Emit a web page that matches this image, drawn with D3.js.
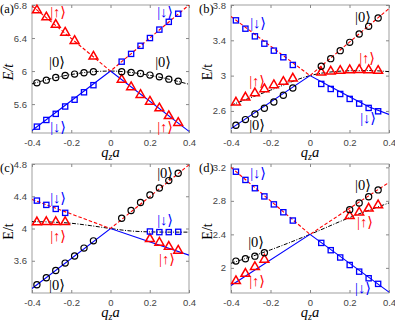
<!DOCTYPE html>
<html>
<head>
<meta charset="utf-8">
<script src="https://cdn.jsdelivr.net/npm/d3@7"></script>
<style>
body { margin: 0; background: #fff; }
text { font-family: "Liberation Serif", "DejaVu Serif", serif; }
.tick text { font-family: "Liberation Sans", Arial, sans-serif; font-size: 9.5px; fill: #444; }
</style>
</head>
<body>
<svg id="fig" width="395" height="323"></svg>
<script>
// momentum points where markers sit
var qLeft = [-0.375, -0.327, -0.279, -0.231, -0.183, -0.135, -0.087];
var qRight = [0.057, 0.105, 0.153, 0.201, 0.249, 0.297, 0.345];
var qLeft4 = qLeft.slice(0, 4);
var qRight4 = qRight.slice(3);
var xTicks = [-0.4, -0.2, 0, 0.2, 0.4];

// panel (a)
var aUpL = [6.73, 6.645, 6.555, 6.46, 6.36, null, 6.17];
var aDownL = [5.327, 5.408, 5.482, 5.571, 5.653, 5.743, 5.829];
var aZeroL = [5.857, 5.89, 5.922, 5.947, 5.963, 5.98, 5.992];
var aDownR = [6.114, 6.208, 6.306, 6.4, 6.502, 6.596, 6.694];
var aUpR = [5.89, 5.8, 5.706, 5.624, 5.543, 5.449, 5.367];
var aZeroR = [5.992, 5.984, 5.971, 5.951, 5.931, 5.902, 5.878];
var aRedLine = [[-0.4, 6.79], [0, 6.0], [0.4, 6.8]];
var aBlueLine = [[-0.4, 5.28], [0, 6.0], [0.4, 5.27]];
var aBlackLine = [[-0.4, 5.845], [-0.3, 5.91], [-0.2, 5.958], [-0.1, 5.99], [0, 6.0], [0.1, 5.985], [0.2, 5.948], [0.3, 5.9], [0.4, 5.84]];
var aTicks = [5.6, 6, 6.4, 6.8];

// panel (b)
var bDownL = [3.626, 3.532, 3.445, 3.362, 3.283, 3.208, 3.121];
var bUpL = [2.691, 2.747, 2.796, 2.842, 2.887, 2.925, 2.962];
var bZeroL = [2.438, 2.502, 2.566, 2.63, 2.702, 2.777, 2.86];
var bZeroR = [3.106, 3.192, 3.283, 3.377, 3.472, 3.558, 3.653];
var bUpR = [3.03, 3.042, 3.049, 3.057, 3.06, 3.057, 3.049];
var bDownR = [2.906, 2.849, 2.792, 2.736, 2.683, 2.634, 2.596];
var bRedLine = [[-0.4, 3.67], [0, 3.0], [0.4, 3.76]];
var bBlueLine = [[-0.4, 2.4], [0, 3.0], [0.1, 2.88], [0.2, 2.76], [0.3, 2.645], [0.4, 2.56]];
var bBlackLine = [[-0.4, 2.665], [-0.2, 2.835], [0, 3.0], [0.05, 3.025], [0.1, 3.04], [0.2, 3.055], [0.3, 3.057], [0.4, 3.045]];
var bTicks = [2.6, 3, 3.4, 3.8];

// panel (c)
var cDownL = [4.346, 4.293, 4.243, 4.194];
var cUpL = [4.072, 4.075, 4.076, 4.075];
var cZeroL = [3.303, 3.39, 3.48, 3.571, 3.658, 3.757, 3.847];
var cZeroR = [4.128, 4.223, 4.322, 4.416, 4.503, 4.594, 4.685];
var cDownR = [3.963, 3.955, 3.955, 3.959];
var cUpR = [3.864, 3.819, 3.769, 3.72];
var cRedLine = [[-0.4, 4.36], [0, 4.0], [0.4, 4.79]];
var cBlueLine = [[-0.4, 3.255], [0, 4.0], [0.4, 3.67]];
var cBlackLine = [[-0.4, 4.085], [-0.3, 4.08], [-0.2, 4.065], [-0.1, 4.035], [0, 4.0], [0.1, 3.97], [0.2, 3.958], [0.3, 3.955], [0.4, 3.955]];
var cTicks = [3.6, 4, 4.4, 4.8];

// panel (d)
var dDownL = [3.148, 3.05, 2.951, 2.853, 2.758, 2.664, 2.565];
var dZeroL = [2.081, 2.109, 2.14, 2.18];
var dUpL = [1.837, 1.924, 2.006, 2.093];
var dDownR = [2.298, 2.211, 2.124, 2.034, 1.955, 1.876, 1.809];
var dZeroR = [2.695, 2.774, 2.849, 2.931];
var dUpR = [2.613, 2.656, 2.703, 2.743];
var dRedLine = [[-0.4, 3.2], [0, 2.4], [0.4, 3.02]];
var dBlueLine = [[-0.4, 1.79], [0, 2.4], [0.4, 1.71]];
var dBlackLine = [[-0.4, 2.055], [-0.2, 2.215], [0, 2.4], [0.2, 2.6], [0.4, 2.775]];
var dTicks = [2, 2.4, 2.8, 3.2];

var UP = "|\u2191\u27E9", DOWN = "|\u2193\u27E9", ZERO = "|0\u27E9";
var RED = "#ff0000", BLUE = "#0000ff", BLACK = "#000";

var svg = d3.select("#fig");

function pts(qs, es) {
    return qs.map((q, i) => [q, es[i]]).filter(d => d[1] != null);
}

var panels = [
    { id: "a", x0: 32, x1: 189, y0: 5, y1: 133, yDomain: [5.25, 6.8], yTicks: aTicks, italicE: true,
      red: aRedLine, blue: aBlueLine, black: aBlackLine,
      ups: pts(qLeft, aUpL).concat(pts(qRight, aUpR)),
      downs: pts(qLeft, aDownL).concat(pts(qRight, aDownR)),
      zeros: pts(qLeft, aZeroL).concat(pts(qRight, aZeroR)),
      labels: [[UP, RED, -0.267, 6.715], [DOWN, BLUE, 0.278, 6.715], [ZERO, BLACK, -0.273, 6.11],
               [ZERO, BLACK, 0.268, 6.11], [DOWN, BLUE, -0.267, 5.323], [UP, RED, 0.278, 5.323]] },
    { id: "b", x0: 231, x1: 389, y0: 5, y1: 133, yDomain: [2.35, 3.8], yTicks: bTicks, italicE: false,
      red: bRedLine, blue: bBlueLine, black: bBlackLine,
      ups: pts(qLeft, bUpL).concat(pts(qRight, bUpR)),
      downs: pts(qLeft, bDownL).concat(pts(qRight, bDownR)),
      zeros: pts(qLeft, bZeroL).concat(pts(qRight, bZeroR)),
      labels: [[DOWN, BLUE, -0.263, 3.596], [ZERO, BLACK, 0.268, 3.664], [UP, RED, 0.289, 3.2],
               [UP, RED, -0.268, 2.939], [ZERO, BLACK, -0.268, 2.44], [DOWN, BLUE, 0.294, 2.52]] },
    { id: "c", x0: 32, x1: 189, y0: 164, y1: 293, yDomain: [3.2, 4.8], yTicks: cTicks, italicE: false,
      red: cRedLine, blue: cBlueLine, black: cBlackLine,
      ups: pts(qLeft4, cUpL).concat(pts(qRight4, cUpR)),
      downs: pts(qLeft4, cDownL).concat(pts(qRight4, cDownR)),
      zeros: pts(qLeft, cZeroL).concat(pts(qRight, cZeroR)),
      labels: [[ZERO, BLACK, 0.278, 4.688], [DOWN, BLUE, -0.267, 4.378], [UP, RED, -0.267, 3.907],
               [DOWN, BLUE, 0.278, 4.105], [UP, RED, 0.288, 3.621], [ZERO, BLACK, -0.273, 3.299]] },
    { id: "d", x0: 231, x1: 389, y0: 164, y1: 293, yDomain: [1.7, 3.24], yTicks: dTicks, italicE: false,
      red: dRedLine, blue: dBlueLine, black: dBlackLine,
      ups: pts(qLeft4, dUpL).concat(pts(qRight4, dUpR)),
      downs: pts(qLeft, dDownL).concat(pts(qRight, dDownR)),
      zeros: pts(qLeft4, dZeroL).concat(pts(qRight4, dZeroR)),
      labels: [[DOWN, BLUE, -0.263, 3.133], [ZERO, BLACK, 0.268, 2.99], [UP, RED, 0.278, 2.548],
               [ZERO, BLACK, -0.273, 2.309], [UP, RED, -0.268, 1.844], [DOWN, BLUE, 0.268, 1.76]] }
];

function fmt(d) { return String(+d.toFixed(2)); }

function drawPanel(p) {
    var xScale = d3.scaleLinear().domain([-0.4, 0.4]).range([p.x0, p.x1]);
    var yScale = d3.scaleLinear().domain(p.yDomain).range([p.y1, p.y0]);

    svg.append("clipPath").attr("id", "clip-" + p.id)
        .append("rect")
        .attr("x", p.x0).attr("y", p.y0)
        .attr("width", p.x1 - p.x0).attr("height", p.y1 - p.y0);

    var g = svg.append("g");

    // axes with inward ticks on all four sides
    g.append("g")
        .attr("transform", `translate(0,${p.y1})`)
        .call(d3.axisBottom(xScale).tickValues(xTicks).tickFormat(fmt).tickSizeInner(-3).tickSizeOuter(0).tickPadding(6));
    g.append("g")
        .attr("transform", `translate(0,${p.y0})`)
        .call(d3.axisTop(xScale).tickValues(xTicks).tickFormat("").tickSizeInner(-3).tickSizeOuter(0));
    g.append("g")
        .attr("transform", `translate(${p.x0},0)`)
        .call(d3.axisLeft(yScale).tickValues(p.yTicks).tickFormat(fmt).tickSizeInner(-3).tickSizeOuter(0).tickPadding(5));
    g.append("g")
        .attr("transform", `translate(${p.x1},0)`)
        .call(d3.axisRight(yScale).tickValues(p.yTicks).tickFormat("").tickSizeInner(-3).tickSizeOuter(0));
    g.selectAll(".domain").remove();
    g.selectAll(".tick line").attr("stroke", "#888");

    g.append("rect")
        .attr("x", p.x0).attr("y", p.y0)
        .attr("width", p.x1 - p.x0).attr("height", p.y1 - p.y0)
        .attr("fill", "none").attr("stroke", "#888").attr("stroke-width", 0.8);

    var line = d3.line().x(d => xScale(d[0])).y(d => yScale(d[1]));
    var curve = d3.line().x(d => xScale(d[0])).y(d => yScale(d[1])).curve(d3.curveMonotoneX);

    var lines = g.append("g").attr("clip-path", `url(#clip-${p.id})`);
    lines.append("path").attr("d", curve(p.black))
        .attr("fill", "none").attr("stroke", BLACK).attr("stroke-width", 1)
        .attr("stroke-dasharray", "4,1.5,1,1.5");
    lines.append("path").attr("d", line(p.blue))
        .attr("fill", "none").attr("stroke", BLUE).attr("stroke-width", 1.1);
    lines.append("path").attr("d", line(p.red))
        .attr("fill", "none").attr("stroke", RED).attr("stroke-width", 1.1)
        .attr("stroke-dasharray", "3.5,2");

    g.selectAll(".up").data(p.ups).enter().append("path")
        .attr("d", d3.symbol().type(d3.symbolTriangle).size(34))
        .attr("transform", d => `translate(${xScale(d[0])},${yScale(d[1]) - 0.5})`)
        .attr("fill", "none").attr("stroke", RED).attr("stroke-width", 1.5);

    g.selectAll(".down").data(p.downs).enter().append("rect")
        .attr("x", d => xScale(d[0]) - 2.6).attr("y", d => yScale(d[1]) - 2.6)
        .attr("width", 5.2).attr("height", 5.2)
        .attr("fill", "none").attr("stroke", BLUE).attr("stroke-width", 1.3);

    g.selectAll(".zero").data(p.zeros).enter().append("circle")
        .attr("cx", d => xScale(d[0])).attr("cy", d => yScale(d[1]))
        .attr("r", 3.1)
        .attr("fill", "none").attr("stroke", BLACK).attr("stroke-width", 1.2);

    g.selectAll(".ket").data(p.labels).enter().append("text")
        .attr("x", d => xScale(d[2])).attr("y", d => yScale(d[3]))
        .attr("text-anchor", "middle").attr("dominant-baseline", "central")
        .style("font-size", "14.5px")
        .attr("fill", d => d[1])
        .text(d => d[0]);

    // panel letter
    g.append("text")
        .attr("x", p.x0 - 32).attr("y", p.y0 + 8)
        .style("font-size", "12.5px")
        .text("(" + p.id + ")");

    // axis titles
    var ey = g.append("text")
        .attr("transform", `translate(${p.x0 - 19},${(p.y0 + p.y1) / 2 + 3})rotate(-90)`)
        .attr("text-anchor", "middle")
        .style("font-size", "14px");
    if (p.italicE) {
        ey.style("font-style", "italic").text("E/t");
    } else {
        ey.text("E/t");
    }

    var xt = g.append("text")
        .attr("x", (p.x0 + p.x1) / 2).attr("y", p.y1 + 24)
        .attr("text-anchor", "middle")
        .style("font-size", "14.5px").style("font-style", "italic");
    xt.append("tspan").text("q");
    xt.append("tspan").attr("dy", 3).style("font-size", "10px").text("z");
    xt.append("tspan").attr("dy", -3).text("a");
}

panels.forEach(drawPanel);
</script>
</body>
</html>
